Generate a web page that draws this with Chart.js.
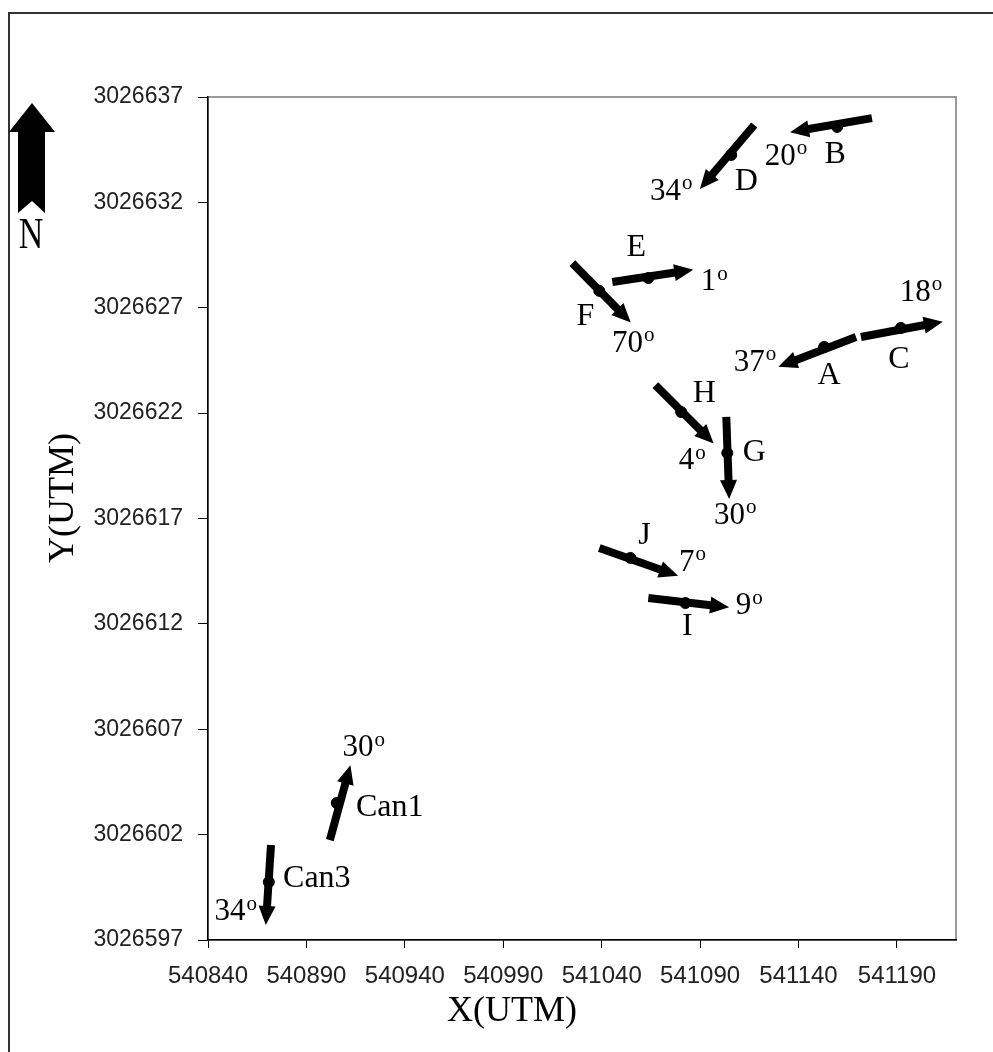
<!DOCTYPE html>
<html>
<head>
<meta charset="utf-8">
<script src="https://cdn.jsdelivr.net/npm/chart.js@4.4.1/dist/chart.umd.min.js"></script>
<style>
  html, body { margin: 0; padding: 0; background: #fff; }
  canvas { display: block; }
</style>
</head>
<body>
<canvas id="wellChart" width="993" height="1052"></canvas>
<script>
  // Wells, dip of each and where it sits (UTM)
  const wells = ['A', 'B', 'C', 'D', 'E', 'F', 'G', 'H', 'I', 'J', 'Can1', 'Can3'];
  const dips  = [37, 20, 18, 34, 1, 70, 30, 4, 9, 7, 30, 34];
  const wellX = [541153.0, 541159.6, 541192.0, 541105.8, 541063.7, 541038.8, 541103.8, 541080.4, 541082.5, 541054.6, 540905.4, 540870.9];
  const wellY = [3026625.14, 3026635.58, 3026626.04, 3026634.25, 3026628.41, 3026627.80, 3026620.11, 3026622.05, 3026612.99, 3026615.13, 3026603.50, 3026599.75];

  // Direction arrows: tail and head end (UTM)
  const tailX = [541169.2, 541177.3, 541171.7, 541117.5, 541045.4, 541025.1, 541103.3, 541067.3, 541063.7, 541038.8, 540901.9, 540872.0];
  const tailY = [3026625.61, 3026636.00, 3026625.61, 3026635.67, 3026628.22, 3026629.12, 3026621.82, 3026623.33, 3026613.23, 3026615.60, 3026601.74, 3026601.51];
  const headX = [541134.5, 541140.7, 541208.3, 541093.2, 541081.5, 541051.2, 541104.6, 541093.3, 541099.7, 541074.0, 540911.0, 540869.7];
  const headY = [3026624.37, 3026635.41, 3026626.25, 3026633.00, 3026628.73, 3026626.64, 3026618.40, 3026620.90, 3026612.84, 3026614.44, 3026604.84, 3026598.19];

  // Axis ticks
  const xTicks = [540840, 540890, 540940, 540990, 541040, 541090, 541140, 541190];
  const yTicks = [3026597, 3026602, 3026607, 3026612, 3026617, 3026622, 3026627, 3026632, 3026637];

  // label offsets in px from the well dot: [name dx, name dy, dip dx, dip dy]
  const labelOffsets = [
    [5, 29, -69, 16], [-2, 28, -51, 30], [-2, 32, 20, -35], [15, 27, -60, 37],
    [-12, -30, 66, 4], [-14, 26, 34, 53], [27, 0, 8, 63], [23, -18, 11, 49],
    [2, 24, 64, 3], [14, -22, 62, 5], [53, 5, 27, -55], [48, -3, -33, 30]
  ];

  const serif = '"Liberation Serif", "Times New Roman", serif';

  const overlay = {
    id: 'overlay',
    beforeDraw(chart) {
      const c = chart.ctx, a = chart.chartArea;
      c.save();
      c.fillStyle = '#fff';
      c.fillRect(0, 0, chart.width, chart.height);
      // outer frame
      c.strokeStyle = '#333';
      c.lineWidth = 2;
      c.beginPath();
      c.moveTo(9, chart.height);
      c.lineTo(9, 13);
      c.lineTo(chart.width, 13);
      c.stroke();
      // plot area box
      c.strokeStyle = '#9a9a9a';
      c.strokeRect(a.left, a.top, a.right - a.left, a.bottom - a.top);
      c.restore();
    },
    afterDatasetsDraw(chart) {
      const c = chart.ctx;
      const xs = chart.scales.x, ys = chart.scales.y;
      c.save();
      c.fillStyle = '#000';
      wells.forEach((w, i) => {
        // arrow head
        const x0 = xs.getPixelForValue(tailX[i]), y0 = ys.getPixelForValue(tailY[i]);
        const x1 = xs.getPixelForValue(headX[i]), y1 = ys.getPixelForValue(headY[i]);
        const len = Math.hypot(x1 - x0, y1 - y0);
        const ux = (x1 - x0) / len, uy = (y1 - y0) / len;
        const tx = x1 + ux * 10, ty = y1 + uy * 10;
        const bx = x1 - ux * 9, by = y1 - uy * 9;
        c.beginPath();
        c.moveTo(tx, ty);
        c.lineTo(bx - uy * 8.5, by + ux * 8.5);
        c.lineTo(bx + uy * 8.5, by - ux * 8.5);
        c.closePath();
        c.fill();

        // labels
        const px = xs.getPixelForValue(wellX[i]), py = ys.getPixelForValue(wellY[i]);
        const off = labelOffsets[i];
        c.textBaseline = 'middle';
        c.textAlign = 'center';
        c.font = '32px ' + serif;
        c.fillText(w, px + off[0], py + off[1]);

        const num = String(dips[i]);
        c.font = '31px ' + serif;
        const wn = c.measureText(num).width;
        c.font = '21px ' + serif;
        const wo = c.measureText('o').width;
        const sx = px + off[2] - (wn + wo + 1) / 2;
        c.textAlign = 'left';
        c.font = '31px ' + serif;
        c.fillText(num, sx, py + off[3]);
        c.font = '21px ' + serif;
        c.fillText('o', sx + wn + 1, py + off[3] - 8);
      });
      c.restore();
    },
    afterDraw(chart) {
      const c = chart.ctx;
      c.save();
      c.fillStyle = '#000';
      // axis titles
      c.font = '36px ' + serif;
      c.textAlign = 'center';
      c.textBaseline = 'middle';
      c.fillText('X(UTM)', 512, 1012);
      c.save();
      c.translate(64, 498);
      c.rotate(-Math.PI / 2);
      c.fillText('Y(UTM)', 0, 0);
      c.restore();

      // north arrow
      c.beginPath();
      c.moveTo(32, 103);
      c.lineTo(55, 132);
      c.lineTo(45, 132);
      c.lineTo(45, 213);
      c.lineTo(32, 201);
      c.lineTo(18, 213);
      c.lineTo(18, 132);
      c.lineTo(9, 132);
      c.closePath();
      c.fill();
      c.save();
      c.translate(31, 236);
      c.scale(0.85, 1.1);
      c.font = '40px ' + serif;
      c.fillText('N', 0, 0);
      c.restore();
      c.restore();
    }
  };

  // one line dataset per arrow shaft, plus the well dots
  const datasets = wells.map((w, i) => ({
    label: w,
    data: [{ x: tailX[i], y: tailY[i] }, { x: headX[i], y: headY[i] }],
    showLine: true,
    borderColor: '#000',
    borderWidth: 8,
    borderCapStyle: 'butt',
    pointRadius: 0
  }));
  datasets.push({
    label: 'wells',
    data: wells.map((w, i) => ({ x: wellX[i], y: wellY[i] })),
    backgroundColor: '#000',
    borderColor: '#000',
    pointRadius: 5.5
  });

  const ctx = document.getElementById('wellChart').getContext('2d');
  const wellChart = new Chart(ctx, {
    type: 'scatter',
    data: { datasets: datasets },
    options: {
      responsive: false,
      maintainAspectRatio: false,
      devicePixelRatio: 1,
      animation: false,
      layout: { padding: { top: 97, right: 37, bottom: 0, left: 0 } },
      plugins: {
        legend: { display: false },
        tooltip: { enabled: false }
      },
      scales: {
        x: {
          type: 'linear',
          min: 540840,
          max: 541220,
          afterBuildTicks: s => { s.ticks = xTicks.map(v => ({ value: v })); },
          afterFit: s => { s.height = 112; },
          grid: { drawOnChartArea: false, drawTicks: true, tickLength: 8, color: '#000' },
          border: { display: true, color: '#000', width: 1.5 },
          ticks: {
            autoSkip: false,
            maxRotation: 0,
            padding: 14,
            color: '#222',
            font: { family: '"Liberation Sans", Arial, sans-serif', size: 24 },
            callback: v => String(v)
          }
        },
        y: {
          type: 'linear',
          min: 3026597,
          max: 3026637,
          afterBuildTicks: s => { s.ticks = yTicks.map(v => ({ value: v })); },
          afterFit: s => { s.width = 208; },
          grid: { drawOnChartArea: false, drawTicks: true, tickLength: 10, color: '#000' },
          border: { display: true, color: '#000', width: 1.5 },
          ticks: {
            autoSkip: false,
            padding: 15,
            color: '#222',
            font: { family: '"Liberation Sans", Arial, sans-serif', size: 23 },
            callback: v => String(v)
          }
        }
      }
    },
    plugins: [overlay]
  });
</script>
</body>
</html>
